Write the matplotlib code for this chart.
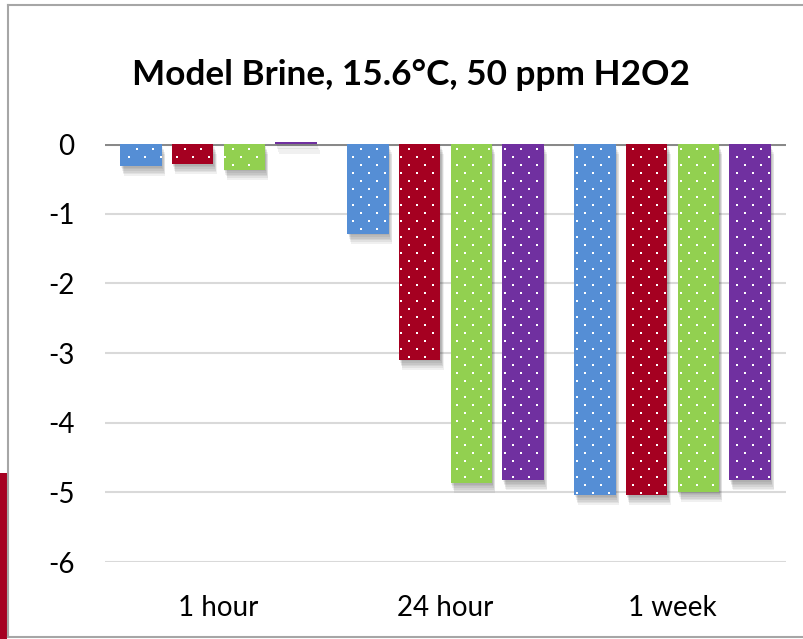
import numpy as np
import matplotlib.pyplot as plt
from matplotlib import patheffects
from matplotlib.patches import Rectangle
from matplotlib.lines import Line2D

plt.rcParams['font.family'] = ['Lato', 'DejaVu Sans']

# log reduction per exposure time, one list per series
categories = ['1 hour', '24 hour', '1 week']
series_a = [-0.32, -1.29, -5.04]
series_b = [-0.29, -3.10, -5.04]
series_c = [-0.37, -4.87, -5.00]
series_d = [0.03, -4.83, -4.83]
colors = ['#558ed5', '#a50021', '#92d050', '#7030a0']
yticks = [0, -1, -2, -3, -4, -5, -6]

fig = plt.figure(figsize=(8.04, 6.39), dpi=100)
ax = fig.add_axes([0.1306, 0.1205, 0.847, 0.6541])

x = np.arange(len(categories))
step = 0.2275
width = 0.182
shadow = [patheffects.SimplePatchShadow(offset=(0.5 + 0.4 * k, -1.0 - 1.2 * k),
                                        shadow_rgbFace='black', alpha=0.06)
          for k in range(6)] + [patheffects.Normal()]

containers = []
for i, vals in enumerate([series_a, series_b, series_c, series_d]):
    bars = ax.bar(x + (i - 1.5) * step, vals, width, color=colors[i],
                  linewidth=0, zorder=3, clip_on=False)
    for b in bars:
        b.set_path_effects(shadow)
    containers.append(bars)

ax.set_xlim(-0.5, 2.5)
ax.set_ylim(-6, 0)
ax.set_yticks(yticks)
ax.set_yticklabels([str(t) for t in yticks])
ax.set_xticks(x)
ax.set_xticklabels(categories)
ax.tick_params(length=0, labelsize=20, colors='black')
ax.tick_params(axis='y', pad=22)
ax.tick_params(axis='x', pad=24)
for s in ax.spines.values():
    s.set_visible(False)
ax.yaxis.grid(True, color='#d9d9d9', linewidth=1.5, zorder=0)
ax.set_axisbelow(True)
ax.axhline(0, color='#898989', linewidth=2.2, zorder=2)

# white dot pattern on the bars, on a shared diamond lattice in pixels
fig.canvas.draw()
inv = ax.transData.inverted()
for bars in containers:
    for b in bars:
        bb = b.get_window_extent()
        if bb.height < 6:
            continue
        gx = np.arange(np.ceil(bb.x0 / 8) * 8, bb.x1 - 1, 8)
        gy = np.arange(np.ceil(bb.y0 / 8) * 8, bb.y1 - 1, 8)
        X, Y = np.meshgrid(gx, gy)
        keep = ((X / 8 + Y / 8) % 2 == 0)
        pts = np.column_stack([X[keep] + 1, Y[keep] + 2])
        d = inv.transform(pts)
        ax.plot(d[:, 0], d[:, 1], 's', color='white', markersize=2.0,
                markeredgewidth=0, zorder=4, clip_on=False)

fig.text(0.511, 0.882, 'Model Brine, 15.6°C, 50 ppm H2O2', ha='center',
         va='center', fontsize=25.3, fontweight='bold')

# chart frame and side accent
W, H = 804, 639
fig.add_artist(Line2D([8 / W, 8 / W], [2 / H, 634 / H], color='#a6a6a6', lw=1.5))
fig.add_artist(Line2D([8 / W, 1], [634 / H, 634 / H], color='#a6a6a6', lw=1.5))
fig.add_artist(Line2D([8 / W, 1], [2 / H, 2 / H], color='#a6a6a6', lw=1.5))
fig.add_artist(Rectangle((0, 0), 7 / W, 166 / H, color='#a50021', lw=0))

fig.savefig('out.png', dpi=100)
